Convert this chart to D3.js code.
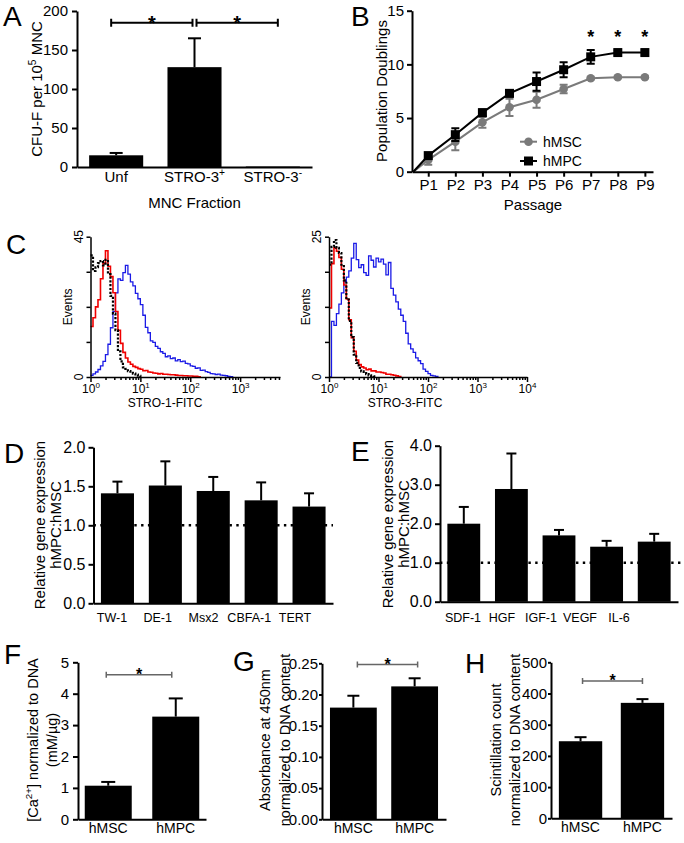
<!DOCTYPE html>
<html><head><meta charset="utf-8">
<script src="https://cdn.jsdelivr.net/npm/d3@7/dist/d3.min.js"></script>
<style>
html,body{margin:0;padding:0;background:#fff;}
svg{display:block;font-family:"Liberation Sans",Arial,Helvetica,sans-serif;}
</style></head><body>
<svg id="fig" width="684" height="843"></svg>
<script>
// ================= DATA =================
// Panel A
const aCats = ["Unf", "STRO-3+", "STRO-3-"];
const aVals = [15, 128, 0.6];
const aErr = [3, 37, 0];
const aTicks = [0, 50, 100, 150, 200];
const aSigY = 185;

// Panel B
const bPassages = ["P1","P2","P3","P4","P5","P6","P7","P8","P9"];
const bMSC = [1.1, 2.8, 4.6, 6.0, 6.7, 7.7, 8.7, 8.8, 8.8];
const bMSCerr = [0.45, 0.8, 0.5, 0.8, 0.75, 0.4, 0.1, 0.1, 0.1];
const bMPC = [1.5, 3.45, 5.5, 7.3, 8.4, 9.5, 10.7, 11.1, 11.1];
const bMPCerr = [0.25, 0.6, 0.3, 0.3, 0.85, 0.7, 0.65, 0.2, 0.25];
const bTicks = [0, 5, 10, 15];
const bStart = 0.45;
const bSig = ["P7","P8","P9"];
const bSigY = 12.9;

// Panel C (flow histograms; counts per bin, bins of 0.05 log10 units starting at 10^0)
const cBin = 0.05;
const c1Blue = [0.5,1,1.6,2.4,3.6,5,7.2,10.5,15.8,21,27,31.5,31,33.5,35.8,33,30.5,29.2,26.8,25.1,23.2,19.8,15.9,14.2,11.6,11.1,9.8,9.2,8.1,7.6,6.5,6.8,5.9,6.1,5.2,5.6,4.9,5.1,4.4,4.2,3.6,3.4,2.8,2.9,2.1,2.2,1.7,1.5,1.1,1.0,0.8,0.9,0.6,0.5,0.4,0.2,0.1,0];
const c1Red = [16.2,19,22.5,24.8,31.5,36.5,40.5,35.5,32.2,27,21,15,10.8,7.9,6.1,4.8,4.1,3.4,3.1,2.7,2.5,2.0,2.1,1.6,1.5,1.3,1.2,1.0,1.1,0.9,0.9,0.8,0.7,0.7,0.6,0.5,0.5,0.4,0.4,0.3,0.3,0.2,0.2,0.1,0];
const c1Iso = [39,34,35.2,36.5,37.2,35.8,37.6,33,26,20.3,15,8.2,5,3.1,2.6,1.9,1.7,1.1,0.8,0.4,0];
const c1YTicks = [0, 11.25, 22.5, 33.75, 45];
const c3Blue = [0,9.9,9.2,11.3,13,15,17,17.8,18.9,21.2,23.8,20.9,19.5,20,18.6,18.1,21.6,20.8,19.6,21.2,20.5,21,20.1,18.2,20.4,15.8,14.6,13.4,12.1,11,9.9,7.8,5.9,5,4.4,3.4,2.9,2.4,1.4,1,0.6,0.3,0.2,0.1,0];
const c3Red = [12.3,20.2,23,22.4,21.3,19.2,16.4,13.9,10.2,7,4.6,3,2.2,1.8,1.6,1.3,1.4,1.1,1.1,0.9,0.9,0.8,0.7,0.5,0.5,0.4,0.3,0.2,0.1,0];
const c3Iso = [20,23.2,24.4,23,22.1,20,17.2,13.8,10,7.1,4,2.5,1.6,1,0.7,0.5,0.3,0.2,0.1,0];
const c3YTicks = [0, 6.25, 12.5, 18.75, 25];

// Panel D
const dCats = ["TW-1","DE-1","Msx2","CBFA-1","TERT"];
const dVals = [1.41, 1.51, 1.44, 1.32, 1.24];
const dErr = [0.15, 0.31, 0.18, 0.23, 0.17];
const dTicks = [0, 0.5, 1.0, 1.5, 2.0];

// Panel E
const eCats = ["SDF-1","HGF","IGF-1","VEGF","IL-6"];
const eVals = [2.0, 2.89, 1.70, 1.41, 1.54];
const eErr = [0.43, 0.91, 0.14, 0.15, 0.20];
const eTicks = [0, 1.0, 2.0, 3.0, 4.0];

// Panels F, G, H
const fghCats = ["hMSC","hMPC"];
const fVals = [1.07, 3.27];
const fErr = [0.12, 0.58];
const fTicks = [0,1,2,3,4,5];
const fSigY = 4.6;
const gVals = [0.179, 0.213];
const gErr = [0.019, 0.013];
const gTicks = [0, 0.05, 0.10, 0.15, 0.20, 0.25];
const gSigY = 0.248;
const hVals = [247, 370];
const hErr = [13, 12];
const hTicks = [0,100,200,300,400,500];
const hSigY = 440;

// ================= HELPERS =================
const svg = d3.select("#fig");

function styleAxis(g, fs, sw) {
  g.attr("font-family", null).attr("font-size", null);
  g.select(".domain").attr("stroke", "#000").attr("stroke-width", sw);
  g.selectAll(".tick line").attr("stroke", "#000").attr("stroke-width", sw);
  g.selectAll(".tick text").attr("font-size", fs).attr("fill", "#000");
}
function letter(t, x, y) {
  svg.append("text").attr("x", x).attr("y", y).attr("font-size", 28).text(t);
}
function rich(sel, parts, fs) {
  let shifted = false;
  parts.forEach(([t, sup]) => {
    const ts = sel.append("tspan").text(t);
    if (sup && !shifted) { ts.attr("font-size", fs * 0.68).attr("dy", -fs * 0.42); shifted = true; }
    else if (sup) { ts.attr("font-size", fs * 0.68); }
    else if (shifted) { ts.attr("dy", fs * 0.42); shifted = false; }
  });
}
function vlabel(cx, cy, fs, parts) {
  const t = svg.append("text").attr("transform", `translate(${cx},${cy}) rotate(-90)`)
    .attr("text-anchor", "middle").attr("dy", "0.35em").attr("font-size", fs);
  rich(t, parts, fs);
  return t;
}
function errBars(g, x, y, cats, vals, errs, capW, sw) {
  const d = cats.map((c, i) => ({ c, v: vals[i], e: errs[i] })).filter(o => o.e > 0);
  const cx = o => x(o.c) + x.bandwidth() / 2;
  g.selectAll(null).data(d).join("line")
    .attr("x1", cx).attr("x2", cx).attr("y1", o => y(o.v)).attr("y2", o => y(o.v + o.e))
    .attr("stroke", "#000").attr("stroke-width", sw);
  g.selectAll(null).data(d).join("line")
    .attr("x1", o => cx(o) - capW / 2).attr("x2", o => cx(o) + capW / 2)
    .attr("y1", o => y(o.v + o.e)).attr("y2", o => y(o.v + o.e))
    .attr("stroke", "#000").attr("stroke-width", sw);
}
function bracket(g, xa, xb, yy, color, sw, capH, starFs) {
  g.append("path").attr("d", `M${xa},${yy - capH}V${yy + capH}M${xa},${yy}H${xb}M${xb},${yy - capH}V${yy + capH}`)
    .attr("fill", "none").attr("stroke", color).attr("stroke-width", sw);
  g.append("text").attr("x", (xa + xb) / 2).attr("y", yy - 4 + starFs * 0.57)
    .attr("text-anchor", "middle").attr("font-size", starFs).attr("font-weight", "bold").text("*");
}
function barPanel(o) {
  const x = d3.scaleBand().domain(o.cats).range([o.x0, o.x1]).paddingInner(o.pi).paddingOuter(o.po);
  const y = d3.scaleLinear().domain([o.ticks[0], o.ticks[o.ticks.length - 1]]).range([o.yb, o.yt]);
  const g = svg.append("g");
  if (o.ref != null) {
    g.append("line").attr("x1", o.x0).attr("x2", o.refEnd).attr("y1", y(o.ref)).attr("y2", y(o.ref))
      .attr("stroke", "#000").attr("stroke-width", 2.4).attr("stroke-dasharray", "2.4,4.4");
  }
  g.selectAll(null).data(o.cats).join("rect")
    .attr("x", d => x(d)).attr("width", x.bandwidth())
    .attr("y", (d, i) => y(o.vals[i])).attr("height", (d, i) => y(0) - y(o.vals[i])).attr("fill", "#000");
  errBars(g, x, y, o.cats, o.vals, o.errs, o.capW, 2);
  const ya = g.append("g").attr("transform", `translate(${o.x0},0)`)
    .call(d3.axisLeft(y).tickValues(o.ticks).tickFormat(o.fmt).tickSize(o.tickLen).tickSizeOuter(0).tickPadding(o.pad));
  styleAxis(ya, o.yfs, 2);
  if (o.labRange) {
    const xa = g.append("g").attr("transform", `translate(0,${o.yb})`)
      .call(d3.axisBottom(x).tickSize(0).tickSizeOuter(0).tickFormat(""));
    styleAxis(xa, o.xfs, 2);
    const lx = d3.scalePoint().domain(o.cats).range(o.labRange);
    g.selectAll(null).data(o.cats).join("text")
      .attr("x", d => lx(d)).attr("y", o.yb + o.xpad).attr("text-anchor", "middle")
      .attr("font-size", o.xfs).text(d => d);
  } else {
    const xa = g.append("g").attr("transform", `translate(0,${o.yb})`)
      .call(d3.axisBottom(x).tickSize(0).tickSizeOuter(0).tickPadding(o.xpad));
    styleAxis(xa, o.xfs, 2);
  }
  return { x, y, g };
}

// ================= PANEL A =================
letter("A", 3, 26);
(function () {
  const x = d3.scaleBand().domain(aCats).range([77, 312]).paddingInner(0.31).paddingOuter(0.155);
  const y = d3.scaleLinear().domain([0, 200]).range([167, 11]);
  const g = svg.append("g");
  g.selectAll(null).data(aCats).join("rect")
    .attr("x", d => x(d)).attr("width", x.bandwidth())
    .attr("y", (d, i) => y(aVals[i])).attr("height", (d, i) => y(0) - y(aVals[i])).attr("fill", "#000");
  errBars(g, x, y, aCats, aVals, aErr, 13, 2);
  const ya = g.append("g").attr("transform", "translate(77,0)")
    .call(d3.axisLeft(y).tickValues(aTicks).tickSize(5).tickSizeOuter(0).tickPadding(4));
  styleAxis(ya, 15, 2);
  const xa = g.append("g").attr("transform", `translate(0,${y(0)})`)
    .call(d3.axisBottom(x).tickSize(0).tickSizeOuter(0).tickFormat(""));
  styleAxis(xa, 15, 2);
  const labs = [[["Unf"]], [["STRO-3"], ["+", true]], [["STRO-3"], ["-", true]]];
  aCats.forEach((c, i) => {
    const t = g.append("text").attr("x", x(c) + x.bandwidth() / 2).attr("y", y(0) + 15)
      .attr("text-anchor", "middle").attr("font-size", 15);
    rich(t, labs[i], 15);
  });
  g.append("text").attr("x", x(aCats[1]) + x.bandwidth() / 2).attr("y", 208)
    .attr("text-anchor", "middle").attr("font-size", 15).text("MNC Fraction");
  const c = i => x(aCats[i]) + x.bandwidth() / 2;
  bracket(g, c(0) - 5, c(1) - 2, y(aSigY), "#000", 2, 4, 20);
  bracket(g, c(1) + 2, c(2) + 5, y(aSigY), "#000", 2, 4, 20);
  vlabel(37, y(100), 15, [["CFU-F per 10"], ["5", true], [" MNC"]]);
})();

// ================= PANEL B =================
letter("B", 351, 26);
(function () {
  const x = d3.scaleLinear().domain([0.4, 9.3]).range([412, 653]);
  const y = d3.scaleLinear().domain([0, 15]).range([171.7, 10.7]);
  const g = svg.append("g");
  const series = [
    { vals: bMSC, errs: bMSCerr, color: "#7a7a7a", shape: "circle", name: "hMSC" },
    { vals: bMPC, errs: bMPCerr, color: "#000", shape: "square", name: "hMPC" }
  ];
  const line = d3.line().x(d => x(d.p)).y(d => y(d.v));
  series.forEach(s => {
    const pts = s.vals.map((v, i) => ({ p: i + 1, v, e: s.errs[i] }));
    g.append("path").datum([{ p: bStart, v: 0 }].concat(pts)).attr("d", line)
      .attr("fill", "none").attr("stroke", s.color).attr("stroke-width", 2);
    g.selectAll(null).data(pts).join("path")
      .attr("d", d => `M${x(d.p)},${y(d.v - d.e)}V${y(d.v + d.e)}M${x(d.p) - 4},${y(d.v - d.e)}h8M${x(d.p) - 4},${y(d.v + d.e)}h8`)
      .attr("stroke", s.color).attr("stroke-width", 2).attr("fill", "none");
    if (s.shape === "circle") {
      g.selectAll(null).data(pts).join("circle").attr("cx", d => x(d.p)).attr("cy", d => y(d.v)).attr("r", 4.3).attr("fill", s.color);
    } else {
      g.selectAll(null).data(pts).join("rect").attr("x", d => x(d.p) - 4.5).attr("y", d => y(d.v) - 4.5)
        .attr("width", 9).attr("height", 9).attr("fill", s.color);
    }
  });
  const ya = g.append("g").attr("transform", `translate(${x(0.4)},0)`)
    .call(d3.axisLeft(y).tickValues(bTicks).tickSize(5).tickSizeOuter(0).tickPadding(3));
  styleAxis(ya, 15, 2);
  const xa = g.append("g").attr("transform", `translate(0,${y(0)})`)
    .call(d3.axisBottom(x).tickValues(bPassages.map((p, i) => i + 1)).tickFormat(d => bPassages[d - 1])
      .tickSize(5).tickSizeOuter(0).tickPadding(3));
  styleAxis(xa, 15, 2);
  g.selectAll(null).data(bSig).join("text")
    .attr("x", d => x(bPassages.indexOf(d) + 1)).attr("y", y(bSigY) + 10)
    .attr("text-anchor", "middle").attr("font-size", 18).attr("font-weight", "bold").text("*");
  const lg = [{ s: series[0], y: 141.7 }, { s: series[1], y: 161 }];
  lg.forEach(l => {
    g.append("line").attr("x1", 520).attr("x2", 537).attr("y1", l.y).attr("y2", l.y).attr("stroke", l.s.color).attr("stroke-width", 2);
    if (l.s.shape === "circle") g.append("circle").attr("cx", 528.5).attr("cy", l.y).attr("r", 4.3).attr("fill", l.s.color);
    else g.append("rect").attr("x", 524).attr("y", l.y - 4.5).attr("width", 9).attr("height", 9).attr("fill", l.s.color);
    g.append("text").attr("x", 543).attr("y", l.y + 5).attr("font-size", 14).text(l.s.name);
  });
  g.append("text").attr("x", 533).attr("y", 210).attr("text-anchor", "middle").attr("font-size", 15).text("Passage");
  vlabel(382, 91, 15, [["Population Doublings"]]);
})();

// ================= PANEL C =================
letter("C", 6, 254);
function hist(o) {
  const x = d3.scaleLog().domain([1, o.xMax]).range([o.x0, o.x1]);
  const y = d3.scaleLinear().domain([0, o.yTicks[o.yTicks.length - 1]]).range([o.yb, o.yt]);
  const g = svg.append("g");
  const line = d3.line().x((d, i) => x(Math.pow(10, i * cBin))).y(d => y(d)).curve(d3.curveStepAfter);
  g.append("path").datum(o.blue).attr("d", line).attr("fill", "none").attr("stroke", "#1a1ae6").attr("stroke-width", 1.3);
  g.append("path").datum(o.red).attr("d", line).attr("fill", "none").attr("stroke", "#f00000").attr("stroke-width", 1.6);
  g.append("path").datum(o.iso).attr("d", line).attr("fill", "none").attr("stroke", "#000").attr("stroke-width", 2.2).attr("stroke-dasharray", "2.2,1.6");
  const all = x.ticks();
  const major = all.filter(v => Math.abs(Math.log10(v) - Math.round(Math.log10(v))) < 1e-9);
  const minor = all.filter(v => major.indexOf(v) < 0);
  const xm = g.append("g").attr("transform", `translate(0,${o.yb})`)
    .call(d3.axisBottom(x).tickValues(minor).tickSize(3).tickFormat("").tickSizeOuter(0));
  styleAxis(xm, 12, 1.5);
  const xM = g.append("g").attr("transform", `translate(0,${o.yb})`)
    .call(d3.axisBottom(x).tickValues(major).tickSize(5).tickSizeOuter(0).tickPadding(2));
  styleAxis(xM, 12, 1.5);
  xM.select(".domain").remove();
  xM.selectAll(".tick text").text(null).each(function (d) {
    const t = d3.select(this);
    t.append("tspan").text("10");
    t.append("tspan").attr("font-size", 8).attr("dy", -5).text(Math.round(Math.log10(d)));
  });
  const ya = g.append("g").attr("transform", `translate(${o.x0},0)`)
    .call(d3.axisLeft(y).tickValues(o.yTicks).tickSize(4).tickSizeOuter(0).tickFormat(""));
  styleAxis(ya, 12, 1.5);
  [o.yTicks[0], o.yTicks[o.yTicks.length - 1]].forEach(v => {
    g.append("text").attr("transform", `translate(${o.x0 - 12},${y(v)}) rotate(-90)`)
      .attr("text-anchor", "middle").attr("dy", "0.35em").attr("font-size", 12).text(v);
  });
  g.append("text").attr("transform", `translate(${o.x0 - 23},${(o.yt + o.yb) / 2}) rotate(-90)`)
    .attr("text-anchor", "middle").attr("dy", "0.35em").attr("font-size", 12).text("Events");
  g.append("text").attr("x", o.labX).attr("y", 407).attr("text-anchor", "middle").attr("font-size", 12).text(o.title);
}
hist({ x0: 90.5, x1: 280, xMax: 6300, yt: 236.7, yb: 377, yTicks: c1YTicks, blue: c1Blue, red: c1Red, iso: c1Iso, title: "STRO-1-FITC", labX: 165 });
hist({ x0: 329, x1: 527, xMax: 10000, yt: 236.7, yb: 377, yTicks: c3YTicks, blue: c3Blue, red: c3Red, iso: c3Iso, title: "STRO-3-FITC", labX: 405 });

// ================= PANEL D =================
letter("D", 4, 463);
barPanel({ cats: dCats, vals: dVals, errs: dErr, ticks: dTicks, fmt: d3.format(".1f"),
  x0: 93.5, x1: 333, yb: 603.3, yt: 447.3, pi: 0.31, po: 0.155, capW: 10,
  tickLen: 5, pad: 3, yfs: 16, xfs: 12.5, xpad: 19, ref: 1.0, refEnd: 333, labRange: [112, 295] });
vlabel(39.5, 525, 15, [["Relative gene expression"]]);
vlabel(55.5, 525, 15, [["hMPC:hMSC"]]);

// ================= PANEL E =================
letter("E", 351, 461);
barPanel({ cats: eCats, vals: eVals, errs: eErr, ticks: eTicks, fmt: d3.format(".1f"),
  x0: 440, x1: 678, yb: 601.7, yt: 445.7, pi: 0.31, po: 0.155, capW: 10,
  tickLen: 5, pad: 3, yfs: 16, xfs: 12.5, xpad: 20.5, ref: 1.0, refEnd: 684, labRange: [463, 619] });
vlabel(388, 524, 15, [["Relative gene expression"]]);
vlabel(404, 524, 15, [["hMPC:hMSC"]]);

// ================= PANEL F =================
letter("F", 4, 664);
(function () {
  const p = barPanel({ cats: fghCats, vals: fVals, errs: fErr, ticks: fTicks, fmt: d3.format("d"),
    x0: 78, x1: 206, yb: 819.3, yt: 662.3, pi: 0.304, po: 0.1, capW: 14,
    tickLen: 5, pad: 4, yfs: 15, xfs: 14, xpad: 4 });
  const c = i => p.x(fghCats[i]) + p.x.bandwidth() / 2;
  bracket(p.g, c(0) - 2, c(1) - 4, p.y(fSigY), "#666", 1.5, 3, 16);
  vlabel(33, 740, 14.5, [["[Ca"], ["2+", true], ["] normalized to DNA"]]);
  vlabel(52, 740, 14.5, [["(mM/µg)"]]);
})();

// ================= PANEL G =================
letter("G", 233, 671);
(function () {
  const p = barPanel({ cats: fghCats, vals: gVals, errs: gErr, ticks: gTicks, fmt: d3.format(".2f"),
    x0: 322, x1: 446, yb: 819.3, yt: 663.3, pi: 0.236, po: 0.13, capW: 12,
    tickLen: 3, pad: 1, yfs: 15, xfs: 14, xpad: 4 });
  const c = i => p.x(fghCats[i]) + p.x.bandwidth() / 2;
  bracket(p.g, c(0) + 4, c(1) + 3, p.y(gSigY), "#666", 1.5, 3, 16);
  vlabel(265, 740, 14.5, [["Absorbance at 450nm"]]);
  vlabel(285, 740, 14.5, [["normalized to DNA content"]]);
})();

// ================= PANEL H =================
letter("H", 465, 673);
(function () {
  const p = barPanel({ cats: fghCats, vals: hVals, errs: hErr, ticks: hTicks, fmt: d3.format("d"),
    x0: 551, x1: 672, yb: 818.3, yt: 662.3, pi: 0.3, po: 0.127, capW: 12,
    tickLen: 3, pad: 1, yfs: 15, xfs: 14, xpad: 4 });
  const c = i => p.x(fghCats[i]) + p.x.bandwidth() / 2;
  bracket(p.g, c(0) + 2, c(1), p.y(hSigY), "#666", 1.5, 3, 16);
  vlabel(496, 740, 14.5, [["Scintillation count"]]);
  vlabel(515, 740, 14.5, [["normalized to DNA content"]]);
})();
</script>
</body></html>
